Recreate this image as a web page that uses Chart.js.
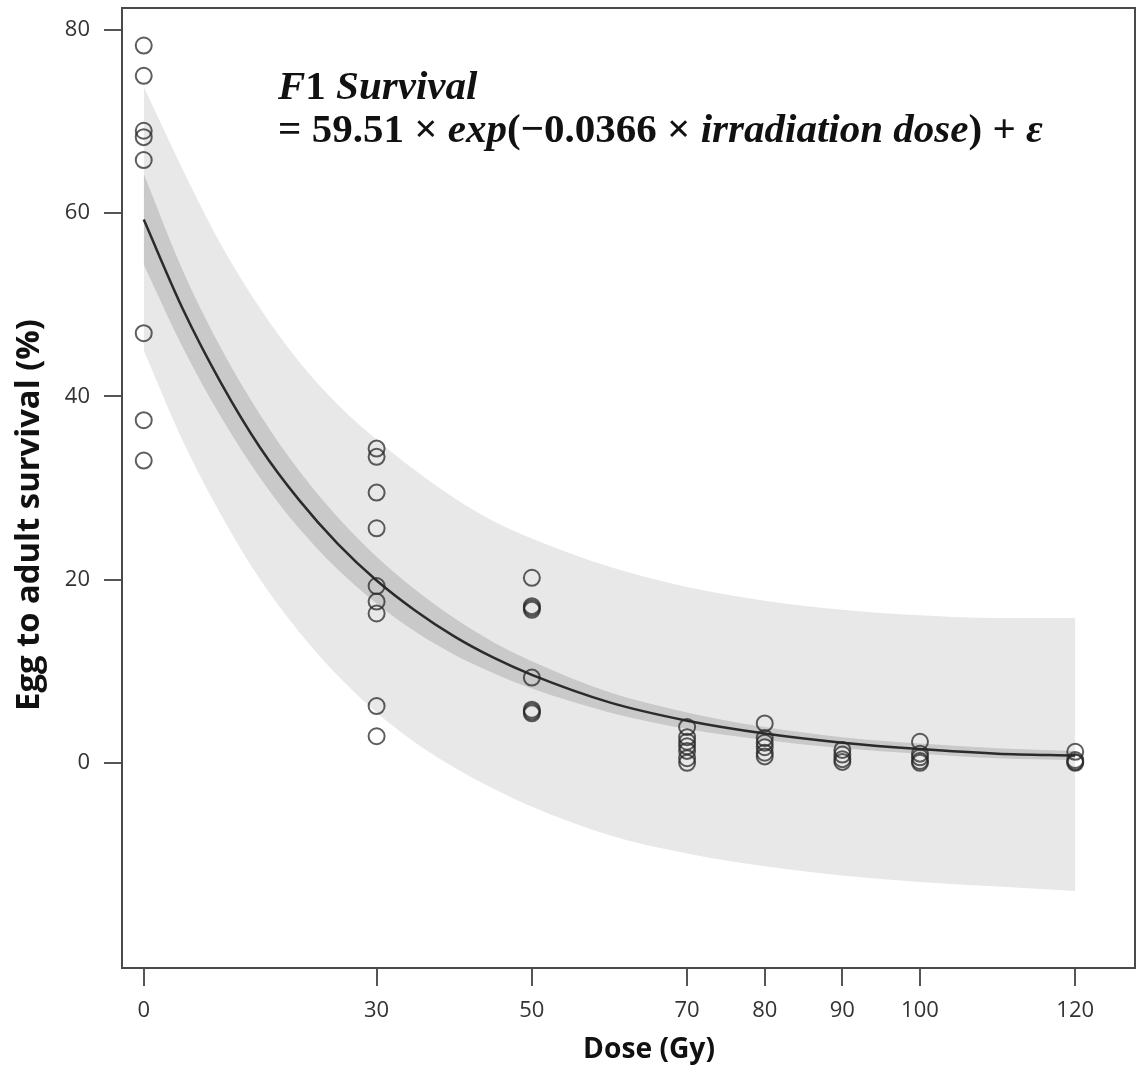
<!DOCTYPE html>
<html>
<head>
<meta charset="utf-8">
<script src="https://cdn.jsdelivr.net/npm/chart.js@4.4.0/dist/chart.umd.min.js"></script>
<style>
  html, body { margin: 0; padding: 0; background: #fff; overflow: hidden; }
  #wrap { width: 1138px; height: 1078px; position: relative; }
  canvas { display: block; }
</style>
</head>
<body>
<div id="wrap"><canvas id="chart"></canvas></div>
<script>
// --- data ---
const doseTicks = [0, 30, 50, 70, 80, 90, 100, 120];
const survivalTicks = [0, 20, 40, 60, 80];

// observed replicates (dose in Gy, egg to adult survival in %)
const obsDose = [
  0, 0, 0, 0, 0, 0, 0, 0,
  30, 30, 30, 30, 30, 30, 30, 30, 30,
  50, 50, 50, 50, 50, 50, 50, 50,
  70, 70, 70, 70, 70, 70, 70,
  80, 80, 80, 80, 80, 80,
  90, 90, 90, 90,
  100, 100, 100, 100, 100,
  120, 120, 120, 120
];
const obsSurvival = [
  78.3, 75.0, 69.0, 68.3, 65.8, 46.9, 37.4, 33.0,
  34.3, 33.4, 29.5, 25.6, 19.3, 17.6, 16.3, 6.2, 2.9,
  20.2, 17.1, 16.9, 16.7, 9.3, 5.8, 5.6, 5.4,
  3.9, 2.8, 2.3, 1.8, 1.3, 0.5, 0.0,
  4.3, 2.7, 2.2, 1.7, 1.1, 0.7,
  1.4, 0.9, 0.4, 0.1,
  2.3, 1.0, 0.6, 0.2, 0.0,
  1.2, 0.3, 0.1, 0.0
];

// fitted curve, confidence band and prediction band
const fitDose     = [0, 5, 10, 15, 20, 25, 30, 35, 40, 45, 50, 60, 70, 80, 90, 100, 110, 120];
const fitSurvival = [59.3, 49.6, 41.4, 34.4, 28.7, 23.9, 19.9, 16.6, 13.8, 11.5, 9.6, 6.6, 4.6, 3.2, 2.2, 1.5, 1.0, 0.8];
const ciUpper     = [64.3, 53.8, 45.2, 38.0, 31.9, 26.8, 22.5, 18.9, 15.8, 13.2, 11.1, 7.7, 5.5, 3.9, 2.8, 2.1, 1.6, 1.3];
const ciLower     = [54.4, 45.4, 37.7, 31.1, 25.6, 21.1, 17.4, 14.3, 11.8, 9.8, 8.1, 5.5, 3.7, 2.5, 1.6, 1.0, 0.5, 0.3];
const piUpper     = [73.8, 64.8, 56.5, 49.6, 43.8, 39.1, 35.3, 31.9, 28.9, 26.4, 24.5, 21.4, 19.2, 17.7, 16.7, 16.1, 15.8, 15.8];
const piLower     = [45.0, 35.2, 27.0, 20.0, 14.3, 9.5, 5.5, 2.2, -0.5, -2.8, -4.8, -7.9, -9.9, -11.3, -12.3, -13.0, -13.5, -14.0];

const xTitle = "Dose (Gy)";
const yTitle = "Egg to adult survival (%)";
// [text, italic]
const eqLine1 = [["F", true], ["1 ", false], ["Survival", true]];
const eqLine2 = [["= 59.51 × ", false], ["exp", true], ["(−0.0366 × ", false],
                 ["irradiation dose", true], [") + ", false], ["ε", true]];

const pts = (xs, ys) => xs.map((x, i) => ({ x: x, y: ys[i] }));

function fitSize(ctx, text, weight, family, target) {
  ctx.font = weight + " 100px " + family;
  return 100 * target / ctx.measureText(text).width;
}

function drawRuns(ctx, runs, x, y, size, family) {
  for (const [t, it] of runs) {
    ctx.font = (it ? "italic " : "") + "bold " + size + "px " + family;
    ctx.fillText(t, x, y);
    x += ctx.measureText(t).width;
  }
}

const decor = {
  id: "decor",
  afterDraw(chart) {
    const ctx = chart.ctx;
    const a = chart.chartArea;
    ctx.save();
    // plot frame
    ctx.strokeStyle = "#4a4a4a";
    ctx.lineWidth = 2;
    ctx.strokeRect(a.left, a.top, a.right - a.left, a.bottom - a.top);

    // axis titles
    ctx.fillStyle = "#111";
    ctx.textAlign = "center";
    ctx.textBaseline = "middle";
    let s = fitSize(ctx, xTitle, "bold", "'Open Sans'", 132);
    ctx.font = "bold " + s + "px 'Open Sans'";
    ctx.fillText(xTitle, 649, 1050);
    s = fitSize(ctx, yTitle, "bold", "'Open Sans'", 392);
    ctx.font = "bold " + s + "px 'Open Sans'";
    ctx.translate(30, 515);
    ctx.rotate(-Math.PI / 2);
    ctx.fillText(yTitle, 0, 0);
    ctx.restore();

    // equation
    ctx.save();
    ctx.fillStyle = "#111";
    ctx.textAlign = "left";
    ctx.textBaseline = "alphabetic";
    const fam = "'Liberation Serif'";
    let w = 0;
    for (const [t, it] of eqLine2) {
      ctx.font = (it ? "italic " : "") + "bold 100px " + fam;
      w += ctx.measureText(t).width;
    }
    const es = 100 * 765 / w;
    drawRuns(ctx, eqLine1, 278, 99, es, fam);
    drawRuns(ctx, eqLine2, 278, 142, es, fam);
    ctx.restore();
  }
};

const ctx = document.getElementById("chart").getContext("2d");
const chart = new Chart(ctx, {
  type: "scatter",
  data: {
    datasets: [
      {
        label: "Observed",
        data: pts(obsDose, obsSurvival),
        pointRadius: 8,
        pointBorderWidth: 2,
        pointBackgroundColor: "rgba(0,0,0,0)",
        pointBorderColor: "rgba(40,40,40,0.75)"
      },
      {
        label: "Fit",
        data: pts(fitDose, fitSurvival),
        showLine: true,
        borderColor: "#2b2b2b",
        borderWidth: 2.5,
        pointRadius: 0,
        cubicInterpolationMode: "monotone"
      },
      {
        label: "CI upper",
        data: pts(fitDose, ciUpper),
        showLine: true,
        borderWidth: 0,
        pointRadius: 0,
        backgroundColor: "#c9c9c9",
        fill: "+1",
        cubicInterpolationMode: "monotone"
      },
      {
        label: "CI lower",
        data: pts(fitDose, ciLower),
        showLine: true,
        borderWidth: 0,
        pointRadius: 0,
        cubicInterpolationMode: "monotone"
      },
      {
        label: "PI upper",
        data: pts(fitDose, piUpper),
        showLine: true,
        borderWidth: 0,
        pointRadius: 0,
        backgroundColor: "#e8e8e8",
        fill: "+1",
        cubicInterpolationMode: "monotone"
      },
      {
        label: "PI lower",
        data: pts(fitDose, piLower),
        showLine: true,
        borderWidth: 0,
        pointRadius: 0,
        cubicInterpolationMode: "monotone"
      }
    ]
  },
  options: {
    responsive: true,
    maintainAspectRatio: false,
    animation: false,
    layout: { autoPadding: false, padding: { top: 8, right: 3, left: 0, bottom: 0 } },
    plugins: {
      legend: { display: false },
      tooltip: { enabled: false }
    },
    scales: {
      x: {
        type: "linear",
        min: -2.8,
        max: 127.7,
        afterBuildTicks: (s) => { s.ticks = doseTicks.map(v => ({ value: v })); },
        afterFit: (s) => { s.height = 110; s.paddingLeft = 0; s.paddingRight = 0; },
        border: { display: false },
        grid: { drawOnChartArea: false, drawTicks: true, tickLength: 18, color: "#555", lineWidth: 2 },
        ticks: { color: "#333", padding: 12, font: { family: "'Open Sans'", size: 22 }, maxRotation: 0 }
      },
      y: {
        type: "linear",
        min: -22.4,
        max: 82.4,
        afterBuildTicks: (s) => { s.ticks = survivalTicks.map(v => ({ value: v })); },
        afterFit: (s) => { s.width = 122; s.paddingTop = 0; s.paddingBottom = 0; },
        border: { display: false },
        grid: { drawOnChartArea: false, drawTicks: true, tickLength: 18, color: "#555", lineWidth: 2 },
        ticks: { color: "#333", padding: 14, font: { family: "'Open Sans'", size: 22 } }
      }
    }
  },
  plugins: [decor]
});
</script>
</body>
</html>
